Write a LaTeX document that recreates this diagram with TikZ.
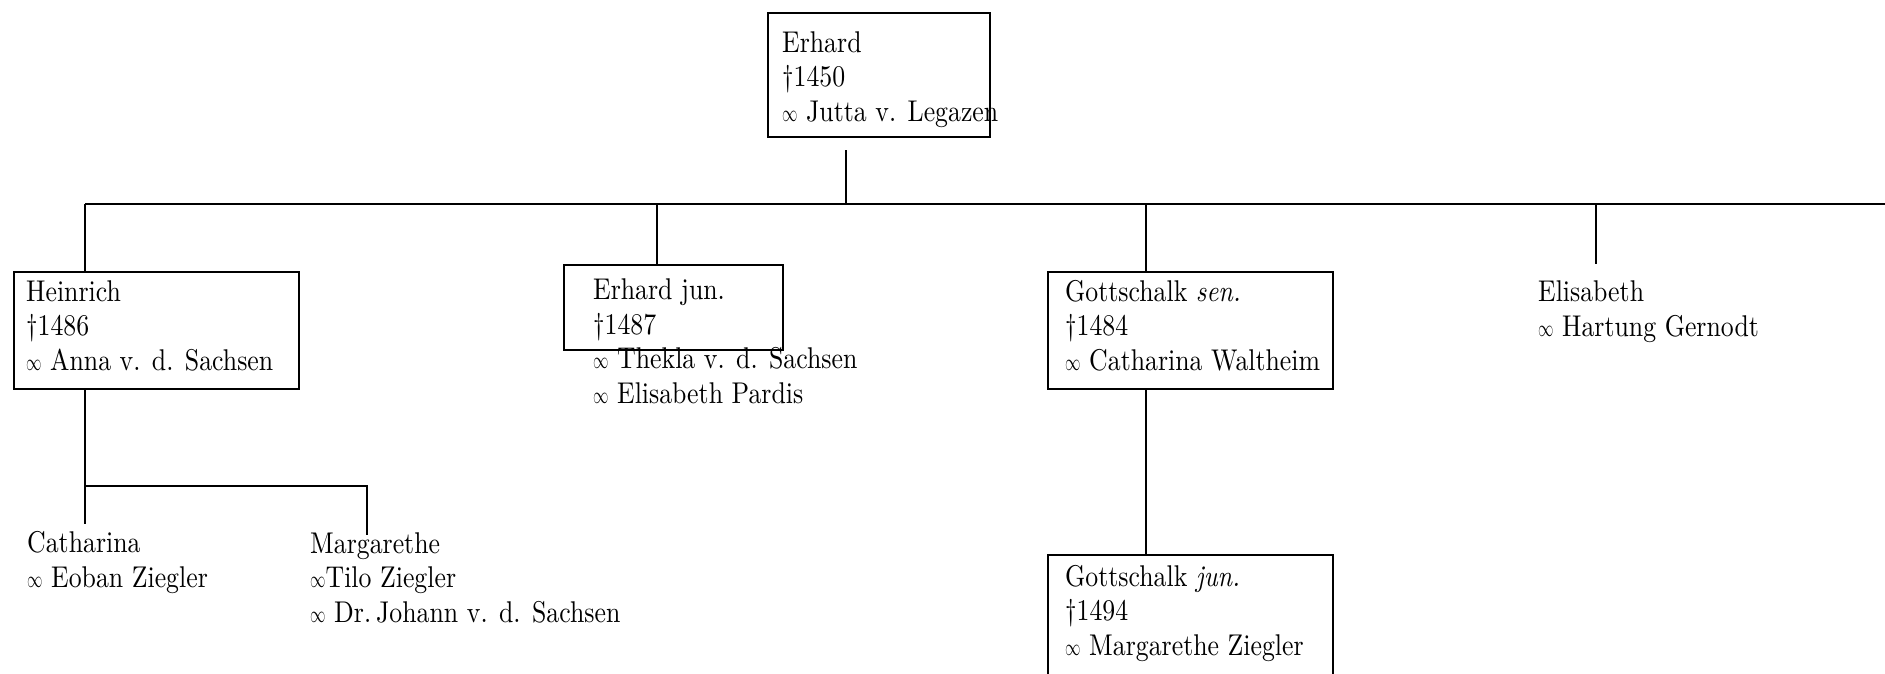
\documentclass[tikz,border=0pt]{standalone}
\usepackage{fontspec}
\usepackage{graphicx}
\setmainfont{lmroman10-regular}[Extension=.otf, ItalicFont=lmroman10-italic, FakeStretch=0.86]
% narrow marriage sign
\newcommand{\marr}{\scalebox{0.62}[0.95]{$\infty$}}

\begin{document}
\begin{tikzpicture}[x=1pt, y=-1pt,
  every node/.style={font=\fontsize{30}{34.5}\selectfont},
  % anchored at the baseline of the last line
  famtext/.style={anchor=base west, align=left, inner sep=0pt},
  fambox/.style={draw, line width=2pt, anchor=north west, inner sep=0pt},
  link/.style={line width=2pt}]

\path[use as bounding box, clip] (0,0) rectangle (1885,673);

% boxes
\node[fambox, minimum width=222pt, minimum height=124pt] (erhardbox) at (767,12) {};
\node[fambox, minimum width=285pt, minimum height=117pt] (heinrichbox) at (13,271) {};
\node[fambox, minimum width=219pt, minimum height=85pt] (erhardjunbox) at (563,264) {};
\node[fambox, minimum width=285pt, minimum height=117pt] (gsenbox) at (1047,271) {};
\node[fambox, minimum width=285pt, minimum height=140pt] (gjunbox) at (1047,554) {};

% names and marriages
\node[famtext] (erhard) at (782,121) {Erhard\\†1450\\\marr{} Jutta v. Legazen};
\node[famtext] (heinrich) at (26,370) {Heinrich\\†1486\\\marr{} Anna v. d. Sachsen};
\node[famtext] (erhardjun) at (593,403) {Erhard jun.\\†1487\\\marr{} Thekla v. d. Sachsen\\\marr{} Elisabeth Pardis};
\node[famtext] (gsen) at (1065,370) {Gottschalk \textit{sen.}\\†1484\\\marr{} Catharina Waltheim};
\node[famtext] (elisabeth) at (1538,336) {Elisabeth\\\marr{} Hartung Gernodt};
\node[famtext] (gjun) at (1065,655) {Gottschalk \textit{jun.}\\†1494\\\marr{} Margarethe Ziegler};
\node[famtext] (catharina) at (27,587) {Catharina\\\marr{} Eoban Ziegler};
\node[famtext] (margarethe) at (310,622) {Margarethe\\\marr{}Tilo Ziegler\\\marr{} Dr.\,Johann v. d. Sachsen};

% junction points
\coordinate (stem) at (846,150);
\coordinate (busL) at (85,204);
\coordinate (busR) at (1895,204);
\coordinate (ejdrop) at (657,204);
\coordinate (gsdrop) at (1146,204);
\coordinate (elidrop) at (1596,204);
\coordinate (elitop) at (1596,264);
\coordinate (hkids) at (85,486);
\coordinate (cathtop) at (85,524);
\coordinate (margtop) at (367,535);

% connectors
\draw[link] (stem) -- (stem |- busL);
\draw[link] (busL) -- (busR);
\draw[link] (busL) -- (busL |- heinrichbox.north);
\draw[link] (ejdrop) -- (ejdrop |- erhardjunbox.north);
\draw[link] (gsdrop) -- (gsdrop |- gsenbox.north);
\draw[link] (elidrop) -- (elitop);
\draw[link] (gsdrop |- gsenbox.south) -- (gsdrop |- gjunbox.north);
\draw[link] (busL |- heinrichbox.south) -- (cathtop);
\draw[link] (hkids) -- (margtop |- hkids) -- (margtop);
\end{tikzpicture}
\end{document}
